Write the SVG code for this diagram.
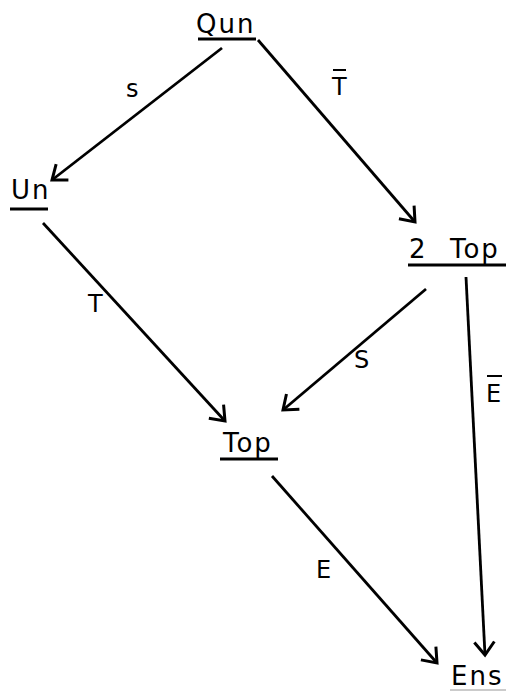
<svg xmlns="http://www.w3.org/2000/svg" width="506" height="692" viewBox="0 0 506 692">
<style>
.t{font-family:"DejaVu Sans","Liberation Sans",sans-serif;font-size:26px;fill:#000;letter-spacing:2px}
.l{font-family:"DejaVu Sans","Liberation Sans",sans-serif;font-size:24px;fill:#000}
.u{stroke:#000;stroke-width:3.2;fill:none}
.e{stroke:#000;stroke-width:2.8;fill:none;marker-end:url(#a)}
.b{stroke:#000;stroke-width:2;fill:none}
</style>
<defs>
<marker id="a" viewBox="0 0 24 24" refX="18" refY="12" markerWidth="24" markerHeight="24" markerUnits="userSpaceOnUse" orient="auto">
<path d="M5,2 L18,12 L5,22" fill="none" stroke="#000" stroke-width="3"/>
</marker>
</defs>
<rect width="506" height="692" fill="#fff"/>
<g id="Qun"><text class="t" x="196" y="33">Qun</text><line class="u" x1="198" y1="39" x2="256" y2="39"/></g>
<g id="Un"><text class="t" x="11" y="199">Un</text><line class="u" x1="10" y1="209" x2="48" y2="209"/></g>
<g id="TwoTop"><text class="t" x="409" y="258">2<tspan x="450">Top</tspan></text><line class="u" x1="408" y1="265" x2="506" y2="265"/></g>
<g id="Top"><text class="t" x="223" y="452">Top</text><line class="u" x1="220" y1="459" x2="278" y2="459"/></g>
<g id="Ens"><text class="t" x="451" y="685">Ens</text><line x1="450" y1="690" x2="506" y2="690" stroke="#000" stroke-width="1" opacity="0.4"/></g>
<g id="connectors">
<line class="e" x1="222" y1="48" x2="52" y2="180"/>
<line class="e" x1="258" y1="40" x2="415" y2="222"/>
<line class="e" x1="43" y1="223" x2="225" y2="421"/>
<line class="e" x1="426" y1="289" x2="283" y2="410"/>
<line class="e" x1="466" y1="277" x2="485" y2="655"/>
<line class="e" x1="272" y1="476" x2="437" y2="663"/>
</g>
<g id="labels">
<text class="l" x="126" y="97">s</text>
<text class="l" x="332" y="95">T</text><line class="b" x1="333" y1="70" x2="346" y2="70"/>
<text class="l" x="88" y="312">T</text>
<text class="l" x="354" y="368">S</text>
<text class="l" x="486" y="402">E</text><line class="b" x1="487" y1="376" x2="502" y2="376"/>
<text class="l" x="316" y="578">E</text>
</g>
</svg>
